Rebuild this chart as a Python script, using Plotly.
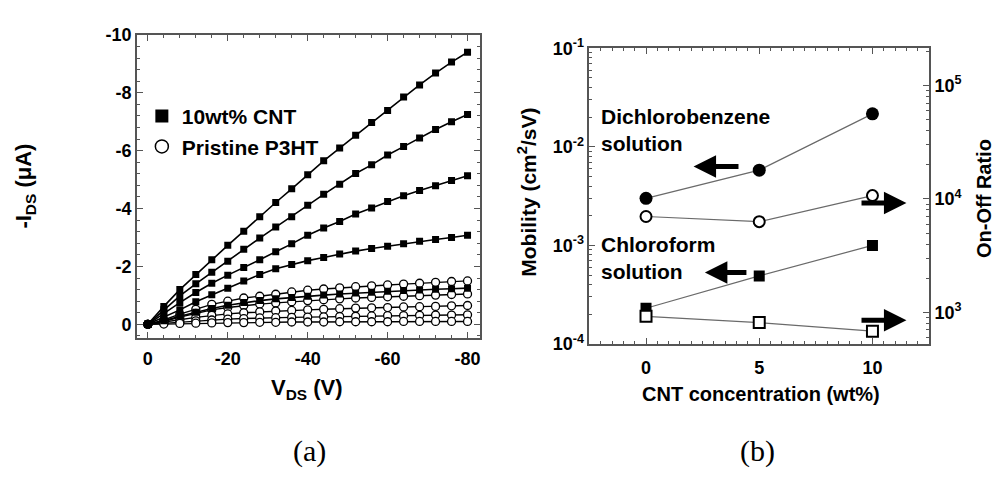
import plotly.graph_objects as go

W, H = 998, 477


def px(x):
    return x / W


def py(y):
    return 1 - y / H


FONT = "Liberation Sans, Arial, sans-serif"
SERIF = "Liberation Serif, Times New Roman, serif"

# ---------------- Panel (a): output characteristics ----------------
vds = [0, -4, -8, -12, -16, -20, -24, -28, -32, -36, -40,
       -44, -48, -52, -56, -60, -64, -68, -72, -76, -80]

cnt_curves = [
    [0, -0.62, -1.20, -1.72, -2.23, -2.73, -3.22, -3.72, -4.21, -4.68, -5.17,
     -5.65, -6.09, -6.53, -6.97, -7.39, -7.85, -8.27, -8.68, -9.06, -9.40],
    [0, -0.50, -0.98, -1.40, -1.80, -2.18, -2.59, -2.98, -3.36, -3.72, -4.11,
     -4.49, -4.84, -5.21, -5.51, -5.85, -6.14, -6.44, -6.73, -7.00, -7.25],
    [0, -0.38, -0.75, -1.10, -1.42, -1.70, -1.96, -2.23, -2.51, -2.78, -3.08,
     -3.33, -3.55, -3.81, -4.02, -4.24, -4.44, -4.62, -4.79, -4.97, -5.13],
    [0, -0.25, -0.50, -0.78, -1.02, -1.25, -1.50, -1.72, -1.92, -2.07, -2.20,
     -2.31, -2.43, -2.53, -2.62, -2.70, -2.78, -2.87, -2.93, -3.00, -3.08],
    [0, -0.12, -0.28, -0.42, -0.55, -0.66, -0.75, -0.82, -0.88, -0.93, -0.97,
     -1.01, -1.05, -1.08, -1.11, -1.14, -1.17, -1.19, -1.21, -1.23, -1.25],
]

p3ht_curves = [
    [0, -0.15, -0.35, -0.52, -0.69, -0.80, -0.91, -0.97, -1.04, -1.12, -1.18,
     -1.22, -1.26, -1.30, -1.33, -1.36, -1.39, -1.42, -1.45, -1.48, -1.50],
    [0, -0.10, -0.25, -0.38, -0.50, -0.58, -0.65, -0.70, -0.74, -0.78, -0.82,
     -0.85, -0.88, -0.91, -0.93, -0.95, -0.97, -0.99, -1.01, -1.03, -1.05],
    [0, -0.07, -0.16, -0.24, -0.31, -0.36, -0.40, -0.43, -0.46, -0.48, -0.50,
     -0.52, -0.54, -0.56, -0.57, -0.58, -0.60, -0.61, -0.62, -0.64, -0.65],
    [0, -0.04, -0.08, -0.12, -0.15, -0.18, -0.20, -0.22, -0.23, -0.24, -0.25,
     -0.26, -0.27, -0.28, -0.29, -0.30, -0.30, -0.31, -0.32, -0.32, -0.33],
    [0, -0.01, -0.03, -0.04, -0.05, -0.06, -0.06, -0.07, -0.07, -0.08, -0.08,
     -0.08, -0.09, -0.09, -0.09, -0.09, -0.10, -0.10, -0.10, -0.10, -0.10],
]

a_xticks = [0, -20, -40, -60, -80]
a_xticktext = ["0", "-20", "-40", "-60", "-80"]
a_yticks = [0, -2, -4, -6, -8, -10]
a_yticktext = ["0", "-2", "-4", "-6", "-8", "-10"]

# ---------------- Panel (b): mobility / on-off ratio ----------------
cnt_conc = [0, 5, 10]
dcb_mobility = [3.0e-3, 5.8e-3, 2.16e-2]
dcb_onoff = [7.0e3, 6.3e3, 1.07e4]
cf_mobility = [2.3e-4, 4.9e-4, 1.0e-3]
cf_onoff = [920, 810, 680]

b_xticks = [0, 5, 10]
mob_ticks = [1e-4, 1e-3, 1e-2, 1e-1]
mob_ticktext = ["10<sup>-4</sup>", "10<sup>-3</sup>", "10<sup>-2</sup>", "10<sup>-1</sup>"]
onoff_ticks = [1e3, 1e4, 1e5]
onoff_ticktext = ["10<sup>3</sup>", "10<sup>4</sup>", "10<sup>5</sup>"]

fig = go.Figure()

for c in p3ht_curves:
    fig.add_trace(go.Scatter(
        x=vds, y=c, mode="lines+markers", xaxis="x", yaxis="y",
        line=dict(color="black", width=1.4),
        marker=dict(symbol="circle", size=8, color="white",
                    line=dict(color="black", width=1.3)),
        showlegend=False))

for c in cnt_curves:
    fig.add_trace(go.Scatter(
        x=vds, y=c, mode="lines+markers", xaxis="x", yaxis="y",
        line=dict(color="black", width=1.6),
        marker=dict(symbol="square", size=7, color="black"),
        showlegend=False))

# legend entries
fig.add_trace(go.Scatter(x=[None], y=[None], mode="markers", name="10wt% CNT",
                         marker=dict(symbol="square", size=13, color="black")))
fig.add_trace(go.Scatter(x=[None], y=[None], mode="markers", name="Pristine P3HT",
                         marker=dict(symbol="circle", size=13, color="white",
                                     line=dict(color="black", width=1.5))))

gray = "#6a6a6a"
fig.add_trace(go.Scatter(x=cnt_conc, y=dcb_mobility, mode="lines+markers",
                         xaxis="x2", yaxis="y2", showlegend=False,
                         line=dict(color=gray, width=1.2),
                         marker=dict(symbol="circle", size=13, color="black")))
fig.add_trace(go.Scatter(x=cnt_conc, y=cf_mobility, mode="lines+markers",
                         xaxis="x2", yaxis="y2", showlegend=False,
                         line=dict(color=gray, width=1.2),
                         marker=dict(symbol="square", size=11, color="black")))
fig.add_trace(go.Scatter(x=cnt_conc, y=dcb_onoff, mode="lines+markers",
                         xaxis="x2", yaxis="y3", showlegend=False,
                         line=dict(color=gray, width=1.2),
                         marker=dict(symbol="circle", size=11, color="white",
                                     line=dict(color="black", width=2))))
fig.add_trace(go.Scatter(x=cnt_conc, y=cf_onoff, mode="lines+markers",
                         xaxis="x2", yaxis="y3", showlegend=False,
                         line=dict(color=gray, width=1.2),
                         marker=dict(symbol="square", size=11, color="white",
                                     line=dict(color="black", width=2))))

tickfont = dict(family=FONT, size=18, color="black", weight="bold")
axcol = "#555555"
common = dict(showgrid=False, zeroline=False, showline=True, linecolor=axcol,
              linewidth=1.5, ticks="inside", ticklen=6, tickwidth=1.2,
              tickcolor=axcol, tickfont=tickfont)

minor_mob = [m * d for d in [1e-4, 1e-3, 1e-2] for m in range(2, 10)]
minor_onoff = [m * d for d in [1e2, 1e3, 1e4, 1e5] for m in range(2, 10)]

fig.update_layout(
    width=W, height=H, margin=dict(l=0, r=0, t=0, b=0),
    paper_bgcolor="white", plot_bgcolor="white",
    xaxis=dict(domain=[px(137), px(480)], anchor="y", range=[2.75, -83],
               tickvals=a_xticks, ticktext=a_xticktext, mirror="ticks",
               ticklabelstandoff=3,
               minor=dict(ticks="inside", ticklen=3, tickcolor=axcol, dtick=4, tick0=0),
               **common),
    yaxis=dict(domain=[py(342), py(24)], anchor="x", range=[0.48, -10],
               tickvals=a_yticks, ticktext=a_yticktext, mirror="ticks",
               minor=dict(ticks="inside", ticklen=3, tickcolor=axcol, dtick=0.4, tick0=0),
               **common),
    xaxis2=dict(domain=[px(590), px(930)], anchor="y2", range=[-2.5, 12.5],
                tickvals=b_xticks, mirror="ticks", ticklabelstandoff=7,
                minor=dict(ticks="inside", ticklen=3, tickcolor=axcol, dtick=0.5, tick0=0),
                **common),
    yaxis2=dict(domain=[py(348), py(38)], anchor="x2", type="log", range=[-4, -1],
                tickvals=mob_ticks, ticktext=mob_ticktext, mirror=True,
                minor=dict(ticks="inside", ticklen=3, tickcolor=axcol, tickvals=minor_mob),
                **common),
    yaxis3=dict(anchor="x2", overlaying="y2", side="right", type="log",
                range=[2.72, 5.33], tickvals=onoff_ticks, ticktext=onoff_ticktext,
                minor=dict(ticks="inside", ticklen=3, tickcolor=axcol, tickvals=minor_onoff),
                **common),
    legend=dict(x=px(142), y=py(88), xanchor="left", yanchor="top",
                bgcolor="rgba(0,0,0,0)", borderwidth=0, tracegroupgap=0,
                itemwidth=30,
                font=dict(family=FONT, size=21, color="black", weight="bold")),
)

title_font = dict(family=FONT, size=22, color="black", weight="bold")
anns = [
    dict(text="-I<sub>DS</sub> (μA)", x=px(25), y=py(182), textangle=-90,
         font=title_font),
    dict(text="V<sub>DS</sub> (V)", x=px(307), y=py(395), font=title_font),
    dict(text="Mobility (cm<sup>2</sup>/sV)", x=px(528), y=py(189), textangle=-90,
         font=dict(family=FONT, size=21, color="black", weight="bold")),
    dict(text="On-Off Ratio", x=px(985), y=py(196), textangle=-90,
         font=dict(family=FONT, size=20, color="black", weight="bold")),
    dict(text="CNT concentration (wt%)", x=px(762), y=py(400),
         font=dict(family=FONT, size=20, color="black", weight="bold")),
    dict(text="(a)", x=px(310), y=py(460),
         font=dict(family=SERIF, size=30, color="black")),
    dict(text="(b)", x=px(758), y=py(460),
         font=dict(family=SERIF, size=30, color="black")),
]
for a in anns:
    a.update(xref="paper", yref="paper", showarrow=False,
             xanchor="center", yanchor="middle")
    fig.add_annotation(**a)

label_font = dict(family=FONT, size=21, color="black", weight="bold")
fig.add_annotation(text="Dichlorobenzene<br>solution", xref="paper", yref="paper",
                   x=px(600), y=py(95), xanchor="left", yanchor="top",
                   align="left", showarrow=False, font=label_font)
fig.add_annotation(text="Chloroform<br>solution", xref="paper", yref="paper",
                   x=px(600), y=py(230), xanchor="left", yanchor="top",
                   align="left", showarrow=False, font=label_font)

# axis-indicating arrows (x in data units of x2, y in log10 units of y2)
arrows = [
    (2.1, -2.20, 4.15, -2.20),
    (11.5, -2.57, 9.45, -2.57),
    (2.6, -3.275, 4.5, -3.275),
    (11.5, -3.76, 9.45, -3.76),
]
for x, y, ax, ay in arrows:
    fig.add_annotation(x=x, y=y, ax=ax, ay=ay, xref="x2", yref="y2",
                       axref="x2", ayref="y2", text="", showarrow=True,
                       arrowhead=2, arrowsize=0.9, arrowwidth=5,
                       arrowcolor="black", standoff=0, startstandoff=0)

fig.write_html("out.html")
